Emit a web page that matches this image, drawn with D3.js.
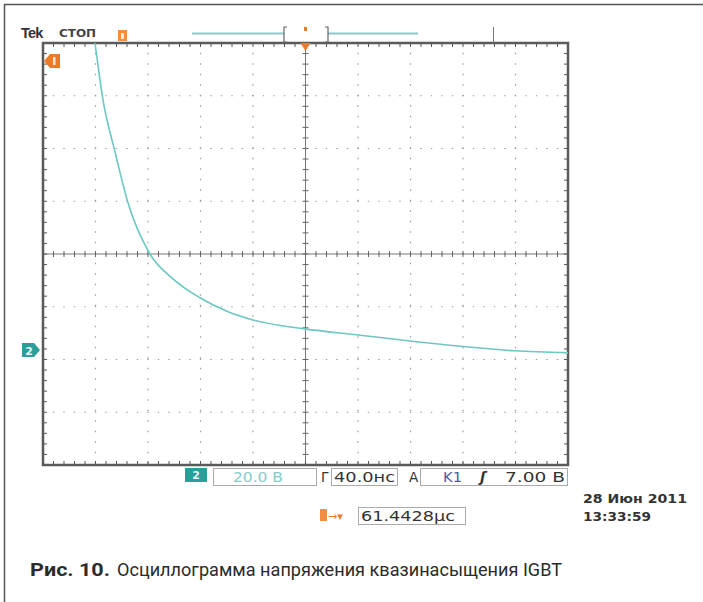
<!DOCTYPE html>
<html>
<head>
<meta charset="utf-8">
<script src="https://cdn.jsdelivr.net/npm/d3@7"></script>
<style>
  html, body { margin: 0; padding: 0; background: #fff; }
  svg { display: block; }
  .scr { font-family: "DejaVu Sans", sans-serif; }
</style>
</head>
<body>
<svg id="chart" width="703" height="602"></svg>
<script>
// Channel 2 trace: time after screen start (ns) and voltage (V)
const timeNs   = [37, 39.6, 45.7, 54.9, 64.8, 81.5, 99, 119.6, 141, 160, 199.6, 240, 279.6, 320, 359.6, 400];
const ch2Volts = [126, 116.4, 94.8, 75.1, 55.7, 36.4, 27.0, 19.8, 14.5, 11.4, 8.0, 5.7, 3.4, 1.3, -0.3, -1.1];

// Scope settings shown on screen
const nsPerDiv = 40;          // horizontal scale
const voltsPerDiv = 20;       // channel 2 scale
const ch2OffsetDiv = -1.82;   // ground marker position relative to centre (divisions)
const hDivs = 10, vDivs = 8, minorPerDiv = 5;

const statusCh2 = "20.0 В";
const statusTime = "40.0нс";
const statusTrigSrc = "K1";
const statusTrigLevel = "7.00 В";
const statusTrigPos = "61.4428µс";
const stampDate = "28 Июн 2011";
const stampTime = "13:33:59";
const captionBold = "Рис. 10.";
const captionText = "Осциллограмма напряжения квазинасыщения IGBT";

const svg = d3.select("#chart");
const L = 43, R = 568, T = 43, B = 465;

const vTop = (vDivs / 2 - ch2OffsetDiv) * voltsPerDiv;
const vBottom = (-vDivs / 2 - ch2OffsetDiv) * voltsPerDiv;

const x = d3.scaleLinear().domain([0, hDivs * nsPerDiv]).range([L, R]);
const y = d3.scaleLinear().domain([vBottom, vTop]).range([B, T]);

const teal = "#2a9e99", traceCol = "#6cc8c0", orange = "#f07a22", frameCol = "#5a5a5a";

// outer figure frame (top and left edges)
svg.append("path").attr("d", "M4.5,602 V4.5 H703").attr("fill", "none")
  .attr("stroke", "#555").attr("stroke-width", 1.5);

// --- graticule ---
const g = svg.append("g");
const majorX = d3.range(hDivs + 1).map(i => i * nsPerDiv);
const majorY = d3.range(vDivs + 1).map(i => vBottom + i * voltsPerDiv);
const minorX = d3.range(hDivs * minorPerDiv + 1).map(i => i * nsPerDiv / minorPerDiv);
const minorY = d3.range(vDivs * minorPerDiv + 1).map(i => vBottom + i * voltsPerDiv / minorPerDiv);
const minorStep = x(nsPerDiv / minorPerDiv) - x(0);

// dotted division lines
g.selectAll(".gv").data(majorX.slice(1, -1)).join("line")
  .attr("x1", d => x(d)).attr("x2", d => x(d)).attr("y1", T).attr("y2", B)
  .attr("stroke", "#9a9a9a").attr("stroke-width", 1.2)
  .attr("stroke-dasharray", "1.4," + (minorStep - 1.4).toFixed(2))
  .attr("stroke-dashoffset", 0.7);
g.selectAll(".gh").data(majorY.slice(1, -1)).join("line")
  .attr("y1", d => y(d)).attr("y2", d => y(d)).attr("x1", L).attr("x2", R)
  .attr("stroke", "#9a9a9a").attr("stroke-width", 1.2)
  .attr("stroke-dasharray", "1.4," + (minorStep - 1.4).toFixed(2))
  .attr("stroke-dashoffset", 0.7);

// centre crosshair with minor ticks
const cx = x(hDivs * nsPerDiv / 2), cy = y(vBottom + vDivs * voltsPerDiv / 2);
g.append("line").attr("x1", L).attr("x2", R).attr("y1", cy).attr("y2", cy)
  .attr("stroke", "#777").attr("stroke-width", 1);
g.append("line").attr("x1", cx).attr("x2", cx).attr("y1", T).attr("y2", B)
  .attr("stroke", "#777").attr("stroke-width", 1);
g.selectAll(".cth").data(minorX).join("line")
  .attr("x1", d => x(d)).attr("x2", d => x(d)).attr("y1", cy - 3).attr("y2", cy + 3)
  .attr("stroke", "#666").attr("stroke-width", 1);
g.selectAll(".ctv").data(minorY).join("line")
  .attr("y1", d => y(d)).attr("y2", d => y(d)).attr("x1", cx - 3).attr("x2", cx + 3)
  .attr("stroke", "#666").attr("stroke-width", 1);

// edge ticks
g.selectAll(".etb").data(minorX).join("line")
  .attr("x1", d => x(d)).attr("x2", d => x(d)).attr("y1", B).attr("y2", B - 4)
  .attr("stroke", "#555").attr("stroke-width", 1);
g.selectAll(".ett").data(minorX).join("line")
  .attr("x1", d => x(d)).attr("x2", d => x(d)).attr("y1", T).attr("y2", T + 4)
  .attr("stroke", "#555").attr("stroke-width", 1);
g.selectAll(".etl").data(minorY).join("line")
  .attr("y1", d => y(d)).attr("y2", d => y(d)).attr("x1", L).attr("x2", L + 4)
  .attr("stroke", "#555").attr("stroke-width", 1);
g.selectAll(".etr").data(minorY).join("line")
  .attr("y1", d => y(d)).attr("y2", d => y(d)).attr("x1", R).attr("x2", R - 4)
  .attr("stroke", "#555").attr("stroke-width", 1);

// screen border
g.append("rect").attr("x", L).attr("y", T).attr("width", R - L).attr("height", B - T)
  .attr("fill", "none").attr("stroke", frameCol).attr("stroke-width", 2.5);

// --- trace ---
svg.append("clipPath").attr("id", "scr").append("rect")
  .attr("x", L).attr("y", T).attr("width", R - L).attr("height", B - T);
const line = d3.line().x((d, i) => x(timeNs[i])).y(d => y(d)).curve(d3.curveMonotoneX);
svg.append("path").datum(ch2Volts).attr("clip-path", "url(#scr)")
  .attr("d", line).attr("fill", "none").attr("stroke", traceCol).attr("stroke-width", 1.6);

// helper for screen-font text fitted to a width
function scrText(xp, yp, str, opts) {
  const t = svg.append("text").attr("x", xp).attr("y", yp).attr("class", "scr")
    .attr("font-size", opts.size || 13).attr("fill", opts.fill || "#333")
    .attr("font-weight", opts.weight || "normal").text(str);
  if (opts.anchor) t.attr("text-anchor", opts.anchor);
  if (opts.width) t.attr("textLength", opts.width).attr("lengthAdjust", "spacingAndGlyphs");
  return t;
}

// --- top status line ---
svg.append("text").attr("x", 21).attr("y", 38).attr("font-family", "Liberation Sans, Arial, sans-serif")
  .attr("font-weight", "bold").attr("font-size", 14.5).attr("fill", "#333").attr("letter-spacing", -0.8).text("Tek");
scrText(59, 37, "СТОП", { size: 10, fill: "#444", weight: "bold", width: 37 });
// trigger status icon
svg.append("rect").attr("x", 118).attr("y", 30).attr("width", 9).attr("height", 11).attr("fill", orange).attr("opacity", 0.85);
svg.append("rect").attr("x", 121).attr("y", 33).attr("width", 3).attr("height", 6).attr("fill", "#fff").attr("opacity", 0.8);

// record-length bar with view brackets
const bracketL = 284, bracketR = 328;
svg.append("line").attr("x1", 192).attr("x2", bracketL).attr("y1", 33.5).attr("y2", 33.5).attr("stroke", "#8ec9c9").attr("stroke-width", 2);
svg.append("line").attr("x1", bracketR).attr("x2", 418).attr("y1", 33.5).attr("y2", 33.5).attr("stroke", "#8ec9c9").attr("stroke-width", 2);
svg.append("path").attr("d", `M${bracketL + 3},27 H${bracketL} V42 H${bracketL + 3}`).attr("fill", "none").attr("stroke", "#666").attr("stroke-width", 1.2);
svg.append("path").attr("d", `M${bracketR - 3},27 H${bracketR} V42 H${bracketR - 3}`).attr("fill", "none").attr("stroke", "#666").attr("stroke-width", 1.2);
svg.append("rect").attr("x", cx - 1.5).attr("y", 27).attr("width", 3).attr("height", 4).attr("fill", orange);
svg.append("line").attr("x1", 493.5).attr("x2", 493.5).attr("y1", 27).attr("y2", 43).attr("stroke", "#777").attr("stroke-width", 1);

// trigger position marker at top of screen
svg.append("path").attr("d", `M${cx - 5},${T} L${cx + 5},${T} L${cx},${T + 8} Z`).attr("fill", orange);

// trigger level marker (left, orange)
svg.append("path").attr("d", "M44,61 L50,54 H60 V68 H50 Z").attr("fill", orange);
svg.append("rect").attr("x", 53).attr("y", 57).attr("width", 2.5).attr("height", 8).attr("fill", "#fff").attr("opacity", 0.8);

// channel 2 ground marker
const gy = y(0);
svg.append("path").attr("d", `M22,${gy - 7} H34 L40,${gy} L34,${gy + 7} H22 Z`).attr("fill", teal);
scrText(29, gy + 4.5, "2", { size: 11, weight: "bold", fill: "#e8f8f6", anchor: "middle" });

// --- bottom status line ---
const r1 = 468, rh = 17;
svg.append("rect").attr("x", 185).attr("y", r1).attr("width", 22).attr("height", 14).attr("fill", teal);
scrText(196, r1 + 11, "2", { size: 11, weight: "bold", fill: "#e8f8f6", anchor: "middle" });
svg.append("rect").attr("x", 213.5).attr("y", r1 + 0.5).attr("width", 103).attr("height", rh).attr("fill", "none").attr("stroke", "#aaa");
scrText(233, r1 + 13.5, statusCh2, { size: 13.5, fill: "#86cbc6", width: 50 });
scrText(321, r1 + 13.5, "Г", { size: 13.5 });
svg.append("rect").attr("x", 331.5).attr("y", r1 + 0.5).attr("width", 66).attr("height", rh).attr("fill", "none").attr("stroke", "#aaa");
scrText(334, r1 + 13.5, statusTime, { size: 13.5, width: 61 });
scrText(409, r1 + 13.5, "A", { size: 13.5 });
svg.append("rect").attr("x", 420.5).attr("y", r1 + 0.5).attr("width", 147).attr("height", rh).attr("fill", "none").attr("stroke", "#aaa");
scrText(443, r1 + 13.5, statusTrigSrc, { size: 13.5, fill: "#5158b0", width: 19 });
scrText(480, r1 + 13.5, "ʃ", { size: 14, weight: "bold" }).attr("font-style", "italic");
scrText(565, r1 + 13.5, statusTrigLevel, { size: 13.5, anchor: "end", width: 60 });

const r2 = 507;
svg.append("rect").attr("x", 320).attr("y", r2 + 2).attr("width", 7).attr("height", 12).attr("fill", orange).attr("opacity", 0.85);
scrText(328, r2 + 13, "→▾", { size: 11, fill: orange });
svg.append("rect").attr("x", 358.5).attr("y", r2 + 0.5).attr("width", 107).attr("height", rh).attr("fill", "none").attr("stroke", "#aaa");
scrText(361, r2 + 13.5, statusTrigPos, { size: 13.5, width: 94 });

scrText(583, 503, stampDate, { size: 13, weight: "bold", width: 104 });
scrText(583, 521, stampTime, { size: 13, weight: "bold", width: 68 });

// --- caption ---
const capFont = "Roboto, 'Noto Sans', sans-serif";
svg.append("text").attr("x", 30).attr("y", 576).attr("font-family", capFont)
  .attr("font-size", 19).attr("font-weight", "bold").attr("fill", "#2b2b2b")
  .attr("textLength", 80).attr("lengthAdjust", "spacingAndGlyphs").text(captionBold);
svg.append("text").attr("x", 117).attr("y", 576).attr("font-family", capFont)
  .attr("font-size", 19).attr("fill", "#2b2b2b")
  .attr("textLength", 445).attr("lengthAdjust", "spacingAndGlyphs").text(captionText);
</script>
</body>
</html>
